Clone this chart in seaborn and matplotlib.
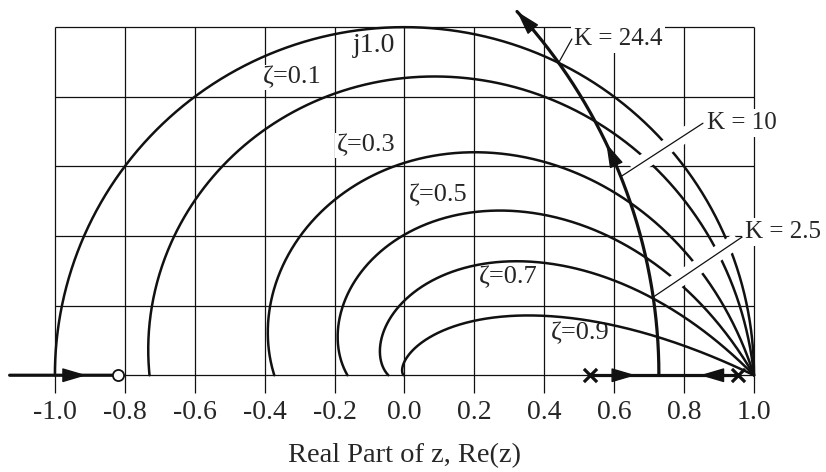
import numpy as np
import pandas as pd
import matplotlib
matplotlib.use("Agg")
import matplotlib.pyplot as plt
import seaborn as sns

# ---- data -------------------------------------------------------------
# damping ratios of the constant-zeta contours (0 -> unit circle)
zeta_values = [0.0, 0.1, 0.3, 0.5, 0.7, 0.9]
zeta_names = ["ζ=0.1", "ζ=0.3", "ζ=0.5", "ζ=0.7", "ζ=0.9"]

# open-loop poles / zero of the discrete plant and its gain scaling
ol_poles = [0.53, 0.955]
ol_zeros = [-0.82]
plant_gain = 0.0247

# gains marked on the locus
gain_marks = [24.4, 10.0, 2.5]
gain_names = ["K = 24.4", "K = 10", "K = 2.5"]

# axis ticks
x_ticks = [-1.0, -0.8, -0.6, -0.4, -0.2, 0.0, 0.2, 0.4, 0.6, 0.8, 1.0]
x_tick_labels = ["-1.0", "-0.8", "-0.6", "-0.4", "-0.2", "0.0", "0.2", "0.4", "0.6", "0.8", "1.0"]
y_grid = [0.0, 0.2, 0.4, 0.6, 0.8, 1.0]
x_title = "Real Part of z, Re(z)"
circle_name = "j1.0"

# ---- style ------------------------------------------------------------
sns.set_style("white")
plt.rcParams["font.family"] = ["Liberation Serif", "DejaVu Serif"]
INK = "#111111"

fig = plt.figure(figsize=(8.26, 4.72), dpi=100)
ax = fig.add_axes([0, 0, 1, 1])
ax.set_xlim(-1.157, 1.206)
ax.set_ylim(-0.278, 1.078)
ax.axis("off")

# ---- grid -------------------------------------------------------------
ax.vlines(x_ticks, -0.05, y_grid[-1], color=INK, lw=0.9, zorder=1)
ax.hlines(y_grid, x_ticks[0], x_ticks[-1], color=INK, lw=0.9, zorder=1)
for xv, lab in zip(x_ticks, x_tick_labels):
    ax.text(xv, -0.108, lab, ha="center", va="center", fontsize=20, zorder=7)
ax.text(0.0, -0.232, x_title, ha="center", va="center", fontsize=20.5, zorder=7)

# ---- constant damping contours -----------------------------------------
theta = np.linspace(0, np.pi, 600)
rows = []
for zeta in zeta_values:
    rad = np.exp(-zeta * theta / np.sqrt(1 - zeta ** 2))
    rows.append(pd.DataFrame({"x": rad * np.cos(theta), "y": rad * np.sin(theta),
                              "zeta": zeta, "order": np.arange(theta.size)}))
contours = pd.concat(rows, ignore_index=True)
sns.lineplot(data=contours, x="x", y="y", units="zeta", estimator=None, sort=False,
             color=INK, lw=1.8, legend=False, ax=ax, zorder=2)

label_xy = [(-0.322, 0.856), (-0.110, 0.661), (0.096, 0.517), (0.296, 0.282), (0.502, 0.121)]
for name, (lx, ly) in zip(zeta_names, label_xy):
    ax.text(lx, ly, name, ha="center", va="center", fontsize=19, zorder=1.5,
            bbox=dict(fc="white", ec="none", pad=1.0))
ax.text(-0.086, 0.948, circle_name, ha="center", va="center", fontsize=20, zorder=1.5)

# ---- root locus ---------------------------------------------------------
den = np.poly(ol_poles)
num = np.poly(ol_zeros)


def cl_roots(k):
    return np.sort_complex(np.roots(np.polyadd(den, k * plant_gain * num)))


gains = np.concatenate([np.linspace(0, 60, 12001), np.geomspace(60, 1e7, 4000)[1:]])
roots = np.array([cl_roots(k) for k in gains])
is_real = np.all(np.abs(roots.imag) < 1e-7, axis=1)
first_cplx = np.argmax(~is_real)
last_cplx = len(gains) - 1 - np.argmax(~is_real[::-1])

# real-axis branches from each pole to the breakaway point
lo = roots[:first_cplx, 0].real
hi = roots[:first_cplx, 1].real
brk = roots[first_cplx].real.mean()
branch_lo = (np.append(lo, brk), np.zeros(lo.size + 1))
branch_hi = (np.append(hi, brk), np.zeros(hi.size + 1))

# upper complex branch, shown up to the top of the frame
upper = roots[first_cplx:last_cplx + 1, 1]
upper = upper[np.argmax(upper.imag > 0):]
stop = np.argmax(upper.imag > 1.045)
upper = upper[:stop]
branch_arc = (np.insert(upper.real, 0, brk), np.insert(upper.imag, 0, 0.0))

# branch on the negative real axis approaching the zero
left = roots[last_cplx + 1:, 1].real
left = left[left >= -1.13]
branch_left = (left, np.zeros(left.size))

locus_rows = []
for name, (bx, by) in [("lo", branch_lo), ("hi", branch_hi), ("arc", branch_arc), ("left", branch_left)]:
    locus_rows.append(pd.DataFrame({"x": bx, "y": by, "branch": name}))
locus = pd.concat(locus_rows, ignore_index=True)
sns.lineplot(data=locus, x="x", y="y", units="branch", estimator=None, sort=False,
             color=INK, lw=2.3, legend=False, ax=ax, zorder=5)


def arrow_on(bx, by, frac):
    seg = np.hypot(np.diff(bx), np.diff(by))
    s = np.concatenate([[0], np.cumsum(seg)])
    tip = np.searchsorted(s, frac * s[-1])
    tip = min(max(tip, 1), len(bx) - 1)
    tail = np.searchsorted(s, s[tip] - 0.04)
    ax.annotate("", xy=(bx[tip], by[tip]), xytext=(bx[tail], by[tail]),
                arrowprops=dict(arrowstyle="-|>,head_length=0.95,head_width=0.28",
                                mutation_scale=16, fc=INK, ec=INK, lw=1.0,
                                shrinkA=0, shrinkB=0), zorder=6)


arrow_on(*branch_left, 0.71)
arrow_on(*branch_lo, 0.66)
arrow_on(*branch_hi, 0.48)
arrow_on(*branch_arc, 0.60)
arrow_on(*branch_arc, 1.0)

# poles and zero
sns.scatterplot(x=ol_poles, y=[0.0] * len(ol_poles), marker="x", s=90, color=INK,
                linewidth=2.3, ax=ax, zorder=6, legend=False)
sns.scatterplot(x=ol_zeros, y=[0.0] * len(ol_zeros), marker="o", s=64, facecolor="white",
                edgecolor=INK, linewidth=1.3, ax=ax, zorder=6, legend=False)

# ---- gain annotations ----------------------------------------------------
text_xy = [(0.485, 0.966), (0.865, 0.724), (0.974, 0.411)]
lead_xy = [(0.479, 0.966), (0.854, 0.724), (0.966, 0.397)]
halo = [False, True, True]
for k, name, (tx, ty), (sx, sy), use_halo in zip(gain_marks, gain_names, text_xy, lead_xy, halo):
    r = cl_roots(k)
    pt = r[np.argmax(r.imag)]
    gx, gy = pt.real, pt.imag
    if use_halo:
        a, b = 0.05, 0.86
        ax.plot([sx + a * (gx - sx), sx + b * (gx - sx)], [sy + a * (gy - sy), sy + b * (gy - sy)],
                color="white", lw=11, solid_capstyle="butt", zorder=3)
    ax.plot([sx, gx], [sy, gy], color=INK, lw=0.9, zorder=4)
    ax.text(tx, ty, name, ha="left", va="center", fontsize=18, zorder=1.5,
            bbox=dict(fc="white", ec="none", pad=2.0))

fig.savefig("out.png", dpi=100)
